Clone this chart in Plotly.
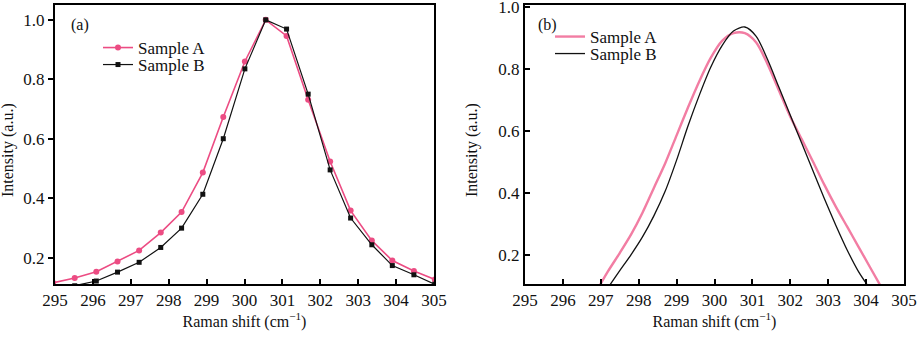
import plotly.graph_objects as go

# ---- panel (a) data ----
a_x = [294.95, 295.52, 296.09, 296.65, 297.22, 297.79, 298.34, 298.90, 299.44, 300.01,
       300.56, 301.11, 301.68, 302.26, 302.80, 303.36, 303.90, 304.47, 305.02]
a_A = [0.115, 0.131, 0.152, 0.187, 0.224, 0.284, 0.353, 0.486, 0.673, 0.860,
       1.000, 0.946, 0.731, 0.523, 0.358, 0.257, 0.190, 0.155, 0.126]
a_B = [0.090, 0.105, 0.121, 0.151, 0.184, 0.234, 0.299, 0.413, 0.600, 0.835,
       1.000, 0.969, 0.750, 0.495, 0.333, 0.243, 0.173, 0.142, 0.110]

# ---- panel (b) data ----
bA_x = [296.9, 297.2, 297.5, 297.8, 298.1, 298.4, 298.7, 299.0, 299.3, 299.6, 299.9,
        300.2, 300.5, 300.8, 301.1, 301.4, 301.7, 302.0, 302.3, 302.6, 302.9, 303.2,
        303.5, 303.8, 304.1, 304.4]
bA_y = [0.085, 0.148, 0.205, 0.265, 0.335, 0.415, 0.495, 0.585, 0.675, 0.760, 0.835,
        0.890, 0.915, 0.915, 0.885, 0.815, 0.730, 0.645, 0.573, 0.500, 0.425, 0.355,
        0.290, 0.225, 0.160, 0.095]
bB_x = [297.2, 297.5, 297.8, 298.1, 298.4, 298.7, 299.0, 299.3, 299.6, 299.9, 300.2,
        300.5, 300.8, 301.1, 301.4, 301.7, 302.0, 302.3, 302.6, 302.9, 303.2, 303.5,
        303.8, 304.1]
bB_y = [0.095, 0.148, 0.200, 0.257, 0.325, 0.405, 0.505, 0.615, 0.715, 0.805, 0.875,
        0.922, 0.935, 0.905, 0.830, 0.740, 0.650, 0.560, 0.470, 0.380, 0.295, 0.215,
        0.145, 0.090]

x_ticks = [295, 296, 297, 298, 299, 300, 301, 302, 303, 304, 305]
y_ticks = [0.2, 0.4, 0.6, 0.8, 1.0]

PINK_A = "#EC4C83"
PINK_B = "#F27DA3"
FONT = "Liberation Serif"
TXT = "#111111"

W, H = 921, 351
def px(x):
    return x / W
def py(y):
    return 1 - y / H

fig = go.Figure()
fig.add_trace(go.Scatter(x=a_x, y=a_A, name="Sample A", mode="lines+markers",
                         line=dict(color=PINK_A, width=1.6),
                         marker=dict(symbol="circle", size=6, color=PINK_A),
                         xaxis="x", yaxis="y", legend="legend", showlegend=True))
fig.add_trace(go.Scatter(x=a_x, y=a_B, name="Sample B", mode="lines+markers",
                         line=dict(color="#111111", width=1.2),
                         marker=dict(symbol="square", size=5, color="#111111"),
                         xaxis="x", yaxis="y", legend="legend2", showlegend=True))
fig.add_trace(go.Scatter(x=bA_x, y=bA_y, name="Sample A", mode="lines",
                         line=dict(color=PINK_B, width=2.4, shape="spline", smoothing=0.8),
                         xaxis="x2", yaxis="y2", legend="legend3", showlegend=True))
fig.add_trace(go.Scatter(x=bB_x, y=bB_y, name="Sample B", mode="lines",
                         line=dict(color="#111111", width=1.3, shape="spline", smoothing=0.8),
                         xaxis="x2", yaxis="y2", legend="legend4", showlegend=True))

axis_common = dict(showline=True, linecolor="black", linewidth=2, mirror=True,
                   showgrid=False, zeroline=False, ticks="inside", ticklen=5,
                   tickwidth=1.5, tickcolor="black", ticklabeloverflow="allow",
                   automargin=False,
                   tickfont=dict(family=FONT, size=17, color=TXT))

xa = dict(axis_common, range=[295, 305], tickvals=x_ticks,
          title=dict(text="Raman shift (cm<sup>−1</sup>)", standoff=0,
                     font=dict(family=FONT, size=16, color=TXT)))
ya = dict(axis_common, tickvals=y_ticks, ticktext=[f"{v:.1f}" for v in y_ticks])

def leg(x, y):
    return dict(x=px(x), y=py(y), xanchor="left", yanchor="top",
                bgcolor="rgba(0,0,0,0)", tracegroupgap=0, visible=True,
                font=dict(family=FONT, size=17, color=TXT), itemwidth=30)

def ytitle(x, y):
    return dict(text="Intensity (a.u.)", x=px(x), y=py(y), xref="paper", yref="paper",
                xanchor="center", yanchor="middle", showarrow=False, textangle=-90,
                font=dict(family=FONT, size=16, color=TXT))

fig.update_layout(
    width=W, height=H,
    margin=dict(l=0, r=0, t=0, b=0, autoexpand=False),
    paper_bgcolor="white", plot_bgcolor="white",
    showlegend=True,
    xaxis=dict(xa, domain=[px(55), px(434)], anchor="y"),
    yaxis=dict(ya, domain=[py(284), py(5)], range=[0.111, 1.05], anchor="x",
               ticks="outside"),
    xaxis2=dict(xa, domain=[px(525), px(904)], anchor="y2"),
    yaxis2=dict(ya, domain=[py(284), py(5)], range=[0.105, 1.006], anchor="x2"),
    legend=leg(98, 30),
    legend2=leg(98, 47),
    legend3=leg(550, 19),
    legend4=leg(550, 36),
    annotations=[
        dict(text="(a)", x=px(69), y=py(25), xref="paper", yref="paper",
             xanchor="left", yanchor="middle", showarrow=False,
             font=dict(family=FONT, size=16, color=TXT)),
        dict(text="(b)", x=px(536), y=py(25), xref="paper", yref="paper",
             xanchor="left", yanchor="middle", showarrow=False,
             font=dict(family=FONT, size=16, color=TXT)),
        ytitle(8, 150),
        ytitle(472, 150),
    ],
)

fig.write_html("out.html")
